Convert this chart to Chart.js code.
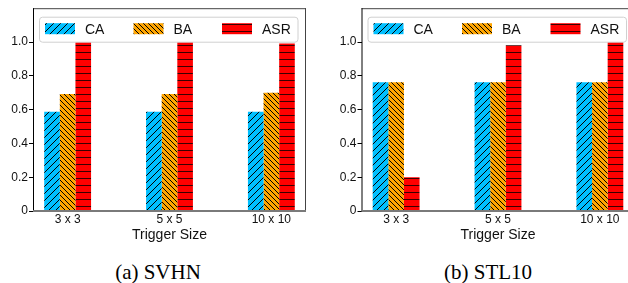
<!DOCTYPE html>
<html>
<head>
<meta charset="utf-8">
<script src="https://cdn.jsdelivr.net/npm/chart.js@4.4.0/dist/chart.umd.min.js"></script>
<style>
  html, body { margin: 0; padding: 0; background: #fff; }
  body { width: 628px; height: 283px; position: relative; overflow: hidden; }
  canvas { position: absolute; top: 0; }
  #svhnChart { left: 0; }
  #stlChart { left: 314px; }
  .caption {
    position: absolute; top: 260px;
    font-family: "Liberation Serif", "Times New Roman", serif;
    font-size: 21px; color: #000; white-space: nowrap;
    transform: translateX(-50%);
  }
</style>
</head>
<body>
<canvas id="svhnChart" width="314" height="245"></canvas>
<canvas id="stlChart" width="330" height="245"></canvas>
<div class="caption" style="left:158px">(a) SVHN</div>
<div class="caption" style="left:488px">(b) STL10</div>

<script>
// ---- data ----
const categories = ['3 x 3', '5 x 5', '10 x 10'];
const seriesNames = ['CA', 'BA', 'ASR'];

const svhnCA = [0.587, 0.587, 0.587];
const svhnBA = [0.692, 0.692, 0.699];
const svhnASR = [1.0, 1.0, 0.991];

const stlCA = [0.762, 0.762, 0.762];
const stlBA = [0.762, 0.762, 0.762];
const stlASR = [0.199, 0.981, 1.0];

const yTicks = [0, 0.2, 0.4, 0.6, 0.8, 1.0];
const yTickLabels = ['0', '0.2', '0.4', '0.6', '0.8', '1.0'];
const xTitle = 'Trigger Size';

const FONT = '"Liberation Sans", Arial, sans-serif';

// hatch fills, like matplotlib '//', '\\\\' and '-'
function makeHatch(bg, kind) {
  const s = kind === 'back' ? 5 : 7;
  const c = document.createElement('canvas');
  c.width = s; c.height = s;
  const g = c.getContext('2d');
  g.fillStyle = bg;
  g.fillRect(0, 0, s, s);
  if (kind === 'flat') {
    g.fillStyle = '#3a0000';
    g.fillRect(0, 3, s, 1);
  } else {
    g.strokeStyle = '#000';
    g.lineWidth = 1;
    g.beginPath();
    if (kind === 'slash') {
      g.moveTo(-1, s + 1); g.lineTo(s + 1, -1);
      g.moveTo(-1, 1); g.lineTo(1, -1);
      g.moveTo(s - 1, s + 1); g.lineTo(s + 1, s - 1);
    } else {
      g.moveTo(-1, -1); g.lineTo(s + 1, s + 1);
      g.moveTo(s - 1, -1); g.lineTo(s + 1, 1);
      g.moveTo(-1, s - 1); g.lineTo(1, s + 1);
    }
    g.stroke();
  }
  return g.createPattern(c, 'repeat');
}

const fills = [
  makeHatch('#00bfff', 'slash'),
  makeHatch('#ffa500', 'back'),
  makeHatch('#ff0000', 'flat')
];

// frame + in-axes legend (matplotlib style)
const framePlugin = {
  id: 'frameLegend',
  afterDraw(chart) {
    const ctx = chart.ctx;
    const a = chart.chartArea;
    ctx.save();
    // spines
    ctx.lineWidth = 1;
    ctx.strokeStyle = '#444';
    ctx.beginPath();
    ctx.moveTo(a.left, a.top + 0.5); ctx.lineTo(a.right, a.top + 0.5);
    ctx.moveTo(a.right - 0.5, a.top); ctx.lineTo(a.right - 0.5, a.bottom);
    ctx.stroke();
    ctx.strokeStyle = '#000';
    ctx.beginPath();
    ctx.moveTo(a.left + 0.5, a.top); ctx.lineTo(a.left + 0.5, a.bottom);
    ctx.stroke();
    ctx.strokeStyle = '#7a7a7a';
    ctx.lineWidth = 2;
    ctx.beginPath();
    ctx.moveTo(a.left, a.bottom); ctx.lineTo(a.right, a.bottom);
    ctx.stroke();

    // legend box
    const bx = a.left + 6.5, by = a.top + 9, bw = a.right - a.left - 14.5, bh = 25;
    ctx.beginPath();
    ctx.roundRect(bx, by, bw, bh, 3);
    ctx.fillStyle = 'rgba(255,255,255,0.85)';
    ctx.fill();
    ctx.strokeStyle = '#d0d0d0';
    ctx.lineWidth = 1;
    ctx.stroke();

    ctx.font = '14px ' + FONT;
    ctx.textBaseline = 'middle';
    ctx.textAlign = 'left';
    chart.data.datasets.forEach((ds, i) => {
      const px = bx + 5.5 + i * 88.5;
      ctx.fillStyle = ds.backgroundColor;
      ctx.fillRect(px, by + 6, 30, 11);
      ctx.fillStyle = '#111';
      ctx.fillText(ds.label, px + 40, by + 12.5);
    });
    ctx.restore();
  }
};

function makeChart(id, values, padLeft, padRight) {
  const datasets = seriesNames.map((name, i) => ({
    label: name,
    data: values[i].map((v, j) => ({ x: j, y: v })),
    backgroundColor: fills[i],
    borderWidth: 0,
    categoryPercentage: 0.46,
    barPercentage: 1.0
  }));

  return new Chart(document.getElementById(id), {
    type: 'bar',
    data: { datasets: datasets },
    plugins: [framePlugin],
    options: {
      responsive: false,
      animation: false,
      layout: { padding: { left: padLeft, right: padRight, top: 6, bottom: 0 } },
      plugins: { legend: { display: false }, tooltip: { enabled: false } },
      scales: {
        x: {
          type: 'linear',
          min: -0.34,
          max: 2.34,
          offset: false,
          grid: { display: false, drawTicks: false },
          border: { display: false },
          afterBuildTicks: (scale) => {
            scale.ticks = categories.map((c, i) => ({ value: i }));
          },
          afterFit: (scale) => { scale.height = 34; },
          ticks: {
            color: '#111',
            font: { family: FONT, size: 12 },
            padding: 1,
            maxRotation: 0,
            autoSkip: false,
            callback: (v) => categories[v]
          },
          title: {
            display: true,
            text: xTitle,
            color: '#111',
            font: { family: FONT, size: 14 },
            padding: { top: 0, bottom: 1 }
          }
        },
        y: {
          min: 0,
          max: 1.2,
          grid: { display: true, drawOnChartArea: false, drawTicks: true, tickLength: 4, color: '#000' },
          border: { display: false },
          afterBuildTicks: (scale) => {
            scale.ticks = yTicks.map((v) => ({ value: v }));
          },
          afterFit: (scale) => { scale.width = 33; },
          ticks: {
            color: '#111',
            font: { family: FONT, size: 12 },
            padding: 1,
            callback: (v) => yTickLabels[yTicks.indexOf(v)]
          }
        }
      }
    }
  });
}

makeChart('svhnChart', [svhnCA, svhnBA, svhnASR], 0, 8);
makeChart('stlChart', [stlCA, stlBA, stlASR], 14.5, 9.5);
</script>
</body>
</html>
